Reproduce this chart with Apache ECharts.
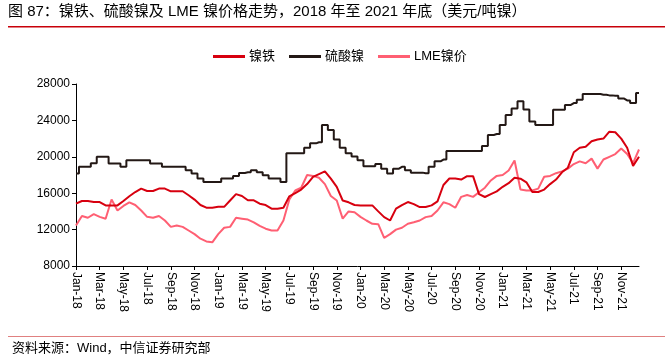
<!DOCTYPE html>
<html><head><meta charset="utf-8">
<script src="https://cdn.jsdelivr.net/npm/echarts@6/dist/echarts.min.js"></script>
<style>html,body{margin:0;padding:0;background:#fff}#c{width:672px;height:361px}</style>
</head><body><div id="c"></div>
<script>
const tickLabels = ['Jan-18','Mar-18','May-18','Jul-18','Sep-18','Nov-18','Jan-19','Mar-19','May-19','Jul-19','Sep-19','Nov-19','Jan-20','Mar-20','May-20','Jul-20','Sep-20','Nov-20','Jan-21','Mar-21','May-21','Jul-21','Sep-21','Nov-21'];
const monthNames = ['Jan','Feb','Mar','Apr','May','Jun','Jul','Aug','Sep','Oct','Nov','Dec'];
const categories = [];
for (let y = 18; y <= 21; y++) for (let m = 0; m < 12; m++) { categories.push(monthNames[m] + '-' + y + ' a'); categories.push(monthNames[m] + '-' + y + ' b'); }

const nickelIron = [
14850,15140,15140,15030,15030,14660,14660,14660,15140,15660,16130,16500,16240,16240,16510,16510,16210,16210,16210,15770,15300,14700,14410,14410,
14500,14500,15200,15900,15700,15220,15220,14850,14700,14300,14300,14400,15660,16020,16400,17000,17800,18100,18400,17610,16700,15200,15000,14700,
14660,14660,14660,14000,13370,13000,14300,14700,15030,14800,14480,14480,14660,15100,16900,17610,17610,17500,17870,17870,15900,15580,15900,16200,
16700,17100,17700,17600,17200,16130,16130,16400,17000,17500,18300,18800,20500,21000,21100,21700,21900,22000,22760,22700,22000,21000,19000,20000];
const nickelSulfate = [
18165,18900,18900,19300,20000,20000,19270,19270,18900,19630,19630,19630,19630,19270,19270,18900,18900,18900,18900,18530,18165,17610,17240,17240,
17240,17610,17610,17900,18230,18300,18530,18300,17980,17610,17610,17240,20380,20380,20380,21000,21480,21600,23500,22950,21900,21000,20380,20020,
19630,18970,18970,19200,18700,18170,18700,18900,18530,18260,18260,18200,18900,19500,19700,20630,20630,20630,20630,20630,20630,21200,22400,22500,
23500,24600,25300,26100,25200,23870,23500,23500,23500,25160,25160,25700,25900,26270,26900,26900,26900,26820,26750,26710,26400,26200,25900,27000];
const lmeNickel = [
12450,13500,13300,13700,13400,13200,15300,14100,14600,15000,14700,14100,13400,13300,13500,13000,12300,12450,12300,11900,11500,11000,10700,10600,
11500,12200,12300,13300,13200,13100,12800,12400,12100,11900,11900,13000,15300,16300,16600,18000,17900,17700,17000,15700,15200,13200,14000,13900,
13400,13000,12640,12600,11100,11500,12000,12200,12640,12800,13000,13370,13500,14100,15000,14800,14400,15600,15800,15600,16100,16600,17400,17900,
18000,18500,19600,16400,16300,16300,16500,17800,17900,18200,18400,18700,19200,19500,19300,19800,18700,19700,20000,20300,20900,20300,19300,20800];

const seriesNames = ['镍铁','硫酸镍','LME镍价'];
const colors = ['#d7000f','#231815','#ff5f73'];
const FONT = '"Liberation Sans","Noto Sans CJK SC",sans-serif';

const chart = echarts.init(document.getElementById('c'), null, {renderer:'canvas'});
const mk = (name, data, color, z, step) => ({
  name, type:'line', data, symbol:'none', z, step: step || false,
  lineStyle:{color, width:2}, itemStyle:{color}
});
chart.setOption({
  animation:false,
  textStyle:{fontFamily:FONT},
  grid:{left:76, right:33, top:84, bottom:95},
  legend:{
    top:45, left:208, itemWidth:32, itemHeight:3, itemGap:14,
    icon:'rect',
    textStyle:{fontSize:13, color:'#000', fontFamily:FONT, padding:[0,0,0,-1]},
    data:seriesNames
  },
  graphic:[
    {type:'text', left:8, top:4, style:{text:'图 87：镍铁、硫酸镍及 LME 镍价格走势，2018 年至 2021 年底（美元/吨镍）', fontSize:15, fill:'#000', fontFamily:FONT}},
    {type:'rect', shape:{x:8, y:26, width:657, height:1.5}, style:{fill:'#c8000a'}},
    {type:'rect', shape:{x:8, y:336, width:657, height:1}, style:{fill:'#e08080'}},
    {type:'text', left:12, top:342, style:{text:'资料来源：Wind，中信证券研究部', fontSize:13, fill:'#000', fontFamily:FONT}}
  ],
  xAxis:{
    type:'category', data:categories, boundaryGap:false,
    axisLine:{lineStyle:{color:'#000', width:1}},
    axisTick:{interval:(i)=>i%4===0, length:4, lineStyle:{color:'#000'}},
    axisLabel:{interval:(i)=>i%4===0, rotate:-90, fontSize:12, color:'#000', margin:6,
      formatter:(v,i)=>tickLabels[i/4]}
  },
  yAxis:{
    type:'value', min:8000, max:28000, interval:4000,
    axisLine:{show:true, lineStyle:{color:'#000', width:1}},
    axisTick:{show:true, length:4, lineStyle:{color:'#000'}},
    splitLine:{show:false},
    axisLabel:{fontSize:12, color:'#000', margin:6, formatter:(v)=>String(v)}
  },
  series:[
    mk(seriesNames[0], nickelIron, colors[0], 3),
    mk(seriesNames[1], nickelSulfate, colors[1], 2, 'middle'),
    mk(seriesNames[2], lmeNickel, colors[2], 1)
  ]
});
</script></body></html>
